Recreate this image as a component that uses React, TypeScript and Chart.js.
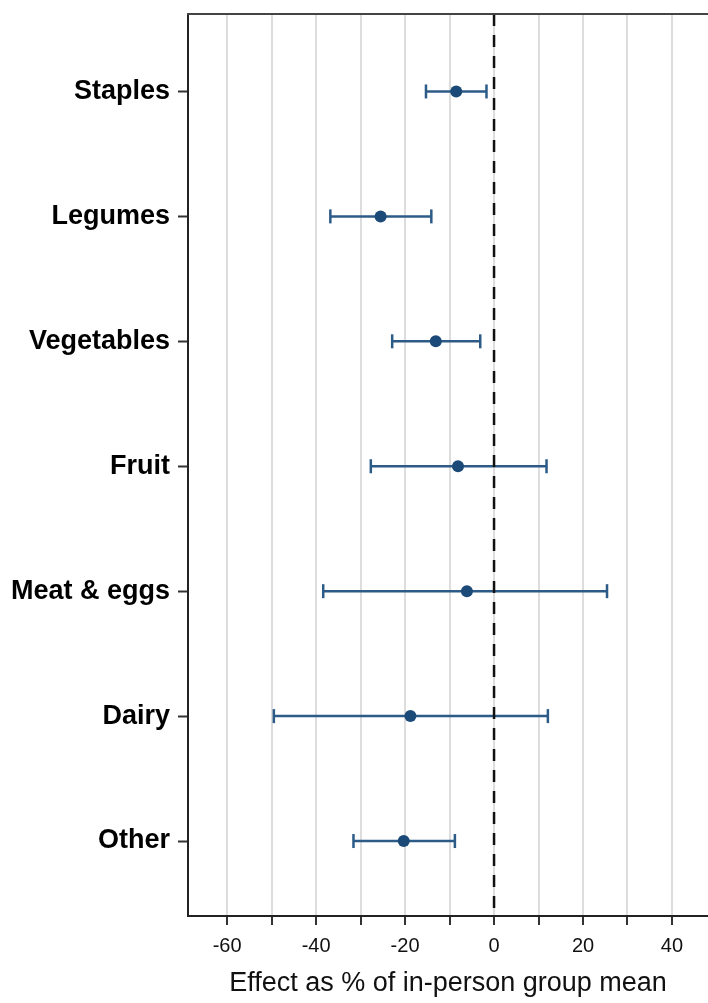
import React, { useEffect, useRef } from "react";
import { Chart, registerables } from "chart.js";

Chart.register(...registerables);

const categories = ["Staples", "Legumes", "Vegetables", "Fruit", "Meat & eggs", "Dairy", "Other"];
const estimates = [-8.5, -25.5, -13.1, -8.1, -6.1, -18.8, -20.3];
const lowerCI = [-15.3, -36.8, -22.9, -27.7, -38.4, -49.5, -31.6];
const upperCI = [-1.7, -14.1, -3.1, 11.8, 25.4, 12.1, -8.8];
const xTickValues = [-60, -40, -20, 0, 20, 40];
const xAxisTitle = "Effect as % of in-person group mean";

const X_MIN = -68.8;
const X_MAX = 48.1;
const Y_MIN = 0.38;
const Y_MAX = 7.6;

const LINE_COLOR = "#2c5b88";
const POINT_COLOR = "#1b4a78";
const FONT = "'Liberation Sans', Arial, sans-serif";

const topBorder = {
  id: "topBorder",
  afterDatasetsDraw(chart: any) {
    const { ctx, chartArea } = chart;
    ctx.save();
    ctx.strokeStyle = "#444444";
    ctx.lineWidth = 2;
    ctx.beginPath();
    ctx.moveTo(chartArea.left - 1, chartArea.top);
    ctx.lineTo(chartArea.right, chartArea.top);
    ctx.stroke();
    ctx.restore();
  },
};

const zeroPadding = (scale: any) => {
  scale.paddingTop = 0;
  scale.paddingBottom = 0;
  scale.paddingLeft = 0;
  scale.paddingRight = 0;
};

export default function App() {
  const ref = useRef<HTMLCanvasElement | null>(null);

  useEffect(() => {
    if (!ref.current) return;
    const ciSets = categories.map((c, i) => ({
      type: "scatter" as const,
      label: c + " CI",
      data: [
        { x: lowerCI[i], y: i + 1 },
        { x: upperCI[i], y: i + 1 },
      ],
      showLine: true,
      borderColor: LINE_COLOR,
      borderWidth: 2.5,
      pointStyle: "line" as const,
      rotation: 90,
      pointRadius: 7,
      pointBorderColor: LINE_COLOR,
      pointBorderWidth: 2.5,
      pointBackgroundColor: LINE_COLOR,
      order: 3,
    }));

    const chart = new Chart(ref.current, {
      type: "scatter",
      data: {
        datasets: [
          {
            label: "Estimate",
            data: estimates.map((v, i) => ({ x: v, y: i + 1 })),
            pointRadius: 6,
            pointBackgroundColor: POINT_COLOR,
            pointBorderColor: POINT_COLOR,
            pointBorderWidth: 0,
            order: 0,
          },
          {
            label: "Zero",
            data: [
              { x: 0, y: Y_MIN },
              { x: 0, y: Y_MAX },
            ],
            showLine: true,
            borderColor: "#111111",
            borderWidth: 2.5,
            borderDash: [12, 9],
            pointRadius: 0,
            order: 1,
          },
          ...ciSets,
        ],
      },
      options: {
        animation: false,
        responsive: false,
        maintainAspectRatio: false,
        layout: { autoPadding: false, padding: { top: 14, left: 0, right: 0, bottom: 0 } },
        plugins: { legend: { display: false }, tooltip: { enabled: false } },
        scales: {
          x: {
            type: "linear",
            position: "bottom",
            min: X_MIN,
            max: X_MAX,
            afterBuildTicks: (scale: any) => {
              const t: any[] = [];
              for (let v = -60; v <= 40; v += 10) t.push({ value: v });
              scale.ticks = t;
            },
            afterFit: (scale: any) => {
              scale.height = 87;
              zeroPadding(scale);
            },
            ticks: {
              autoSkip: false,
              maxRotation: 0,
              padding: 9,
              color: "#111111",
              font: { family: FONT, size: 20 },
              callback: (v: any) => (xTickValues.includes(Number(v)) ? String(v) : ""),
            },
            grid: {
              color: "#dddddd",
              lineWidth: 2,
              tickLength: 9,
              tickColor: "#333333",
              tickWidth: 2,
            },
            border: { display: true, color: "#222222", width: 2 },
            title: {
              display: true,
              text: xAxisTitle,
              color: "#111111",
              font: { family: FONT, size: 27 },
              padding: { top: 0, bottom: 3 },
            },
          },
          y: {
            type: "linear",
            position: "left",
            reverse: true,
            min: Y_MIN,
            max: Y_MAX,
            afterBuildTicks: (scale: any) => {
              scale.ticks = categories.map((_, i) => ({ value: i + 1 }));
            },
            afterFit: (scale: any) => {
              scale.width = 188;
              zeroPadding(scale);
            },
            ticks: {
              autoSkip: false,
              padding: 8,
              color: "#000000",
              font: { family: FONT, size: 27, weight: "bold" },
              callback: (v: any) => categories[Number(v) - 1] ?? "",
            },
            grid: {
              drawOnChartArea: false,
              tickLength: 10,
              tickColor: "#333333",
              tickWidth: 2,
            },
            border: { display: true, color: "#222222", width: 2 },
          },
        },
      },
      plugins: [topBorder],
    } as any);
    return () => chart.destroy();
  }, []);

  return (
    <div style={{ position: "fixed", left: 0, top: 0, width: 708, height: 1003, background: "#ffffff" }}>
      <canvas ref={ref} width={708} height={1003} style={{ display: "block" }} />
    </div>
  );
}
